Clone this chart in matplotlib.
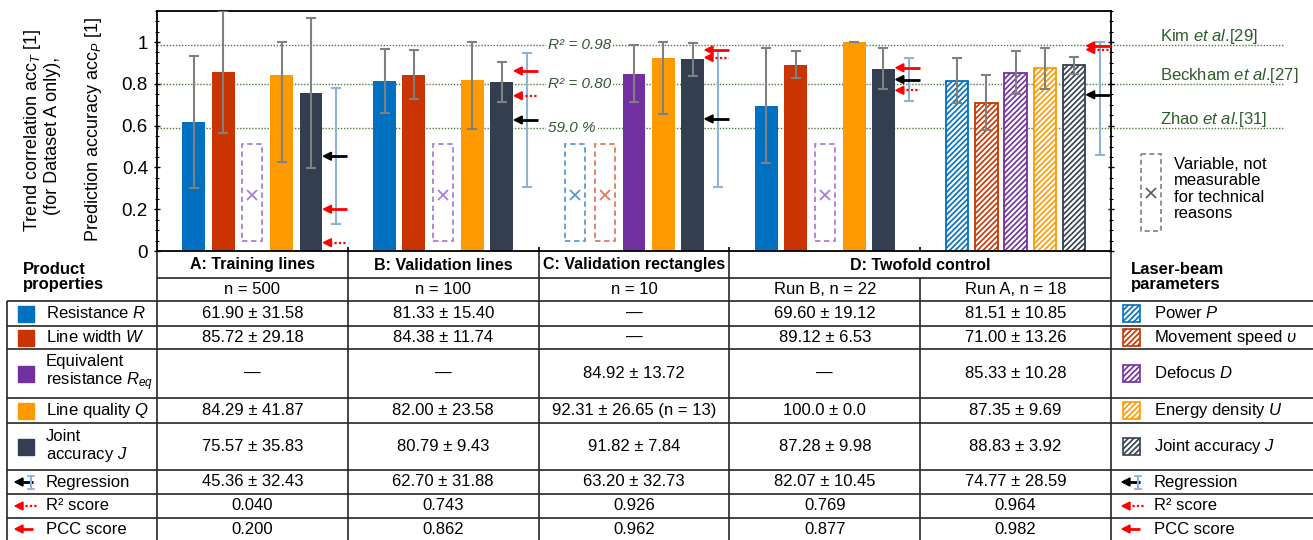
import matplotlib
matplotlib.use("Agg")
import matplotlib.pyplot as plt
from matplotlib.patches import Polygon, Rectangle
from matplotlib.ticker import MultipleLocator
from matplotlib.transforms import blended_transform_factory

plt.rcParams["font.family"] = ["Liberation Sans", "DejaVu Sans"]
plt.rcParams["mathtext.fontset"] = "custom"
plt.rcParams["mathtext.rm"] = "Liberation Sans"
plt.rcParams["mathtext.it"] = "Liberation Sans:italic"
plt.rcParams["mathtext.bf"] = "Liberation Sans:bold"
plt.rcParams["hatch.linewidth"] = 1.2

# ---- data: accuracies in %, one entry per dataset column (A, B, C, D run B, D run A) ----
group_titles = ["A: Training lines", "B: Validation lines", "C: Validation rectangles", "D: Twofold control"]
sample_sizes = ["n = 500", "n = 100", "n = 10", "Run B, n = 22", "Run A, n = 18"]

product_labels = ["Resistance $R$", "Line width $W$", "Equivalent\nresistance $R_{eq}$",
                  "Line quality $Q$", "Joint\naccuracy $J$"]
laser_labels = ["Power $P$", "Movement speed $\\upsilon$", "Defocus $D$", "Energy density $U$", "Joint accuracy $J$"]
score_labels = ["Regression", "R² score", "PCC score"]

mean_R = [61.90, 81.33, None, 69.60, 81.51]
std_R = [31.58, 15.40, None, 19.12, 10.85]
mean_W = [85.72, 84.38, None, 89.12, 71.00]
std_W = [29.18, 11.74, None, 6.53, 13.26]
mean_Req = [None, None, 84.92, None, 85.33]
std_Req = [None, None, 13.72, None, 10.28]
mean_Q = [84.29, 82.00, 92.31, 100.0, 87.35]
std_Q = [41.87, 23.58, 26.65, 0.0, 9.69]
note_Q = ["", "", " (n = 13)", "", ""]
mean_J = [75.57, 80.79, 91.82, 87.28, 88.83]
std_J = [35.83, 9.43, 7.84, 9.98, 3.92]
# error bar half-widths as drawn in the chart (run B resistance bar is drawn wider than its std)
err_R = [31.58, 15.40, None, 27.60, 10.85]

mean_reg = [45.36, 62.70, 63.20, 82.07, 74.77]
std_reg = [32.43, 31.88, 32.73, 10.45, 28.59]
r2_score = [0.040, 0.743, 0.926, 0.769, 0.964]
pcc_score = [0.200, 0.862, 0.962, 0.877, 0.982]

ref_levels = [0.985, 0.80, 0.59]
ref_inline = ["R² = 0.98", "R² = 0.80", "59.0 %"]
ref_sources = ["Kim $et\\ al$.[29]", "Beckham $et\\ al$.[27]", "Zhao $et\\ al$.[31]"]

# ---- styling ----
colors = ["#0070C0", "#C93400", "#7030A0", "#FF9900", "#333F50"]
box_colors = ["#5B9BD5", "#E07B5A", "#A77FD4", "#FFC000", "#7F7F7F"]
reg_color = "#8DB3DD"
ref_color = "#2E5B2E"
red = "#FF0000"

means = [mean_R, mean_W, mean_Req, mean_Q, mean_J]
stds = [std_R, std_W, std_Req, std_Q, std_J]
errs = [err_R, std_W, std_Req, std_Q, std_J]
clip_top = [False, False, False, True, False]

W, H = 1313, 540
ax_left, ax_right, ax_top, ax_bottom = 157, 1111, 10.5, 251
n_cols = 5
slot = 0.1535
bar_w = 0.12
reg_off = 0.44
hatch = "//////"

fig = plt.figure(figsize=(W / 100, H / 100), dpi=100)
tab = fig.add_axes([0, 0, 1, 1])
tab.set_xlim(0, W)
tab.set_ylim(H, 0)
tab.axis("off")

ax = fig.add_axes([ax_left / W, 1 - ax_bottom / H, (ax_right - ax_left) / W, (ax_bottom - ax_top) / H])
ax.set_facecolor("none")
trans = blended_transform_factory(tab.transData, ax.transData)


def arrow(axis, x_head, x_tail, y, color, dotted, hl, hh, lw=2.0, z=4):
    axis.plot([x_head + hl * 0.8, x_tail], [y, y], color=color, lw=lw,
              ls=(0, (1, 1)) if dotted else "-", solid_capstyle="butt", clip_on=False, zorder=z)
    axis.add_patch(Polygon([[x_head, y], [x_head + hl, y + hh], [x_head + hl, y - hh]],
                           closed=True, color=color, clip_on=False, zorder=z))


def fmt(m, s):
    if m is None:
        return "—"
    d = 1 if s == 0 else 2
    return f"{m:.{d}f} ± {s:.{d}f}"


# ---- reference lines ----
for lvl, lab, src in zip(ref_levels, ref_inline, ref_sources):
    ax.plot([ax_left, 1284], [lvl, lvl], transform=trans, color="#4E7A3E", lw=1.0,
            ls=(0, (1, 1.2)), clip_on=False, zorder=1)
    ax.text(548, lvl, lab, transform=trans, fontsize=11, style="italic", color=ref_color,
            va="center", ha="left", bbox=dict(fc="white", ec="none", pad=1.5), zorder=1.5)
    tab.text(1160, lvl + 0.018, src, transform=trans, fontsize=12, color=ref_color, va="baseline")

# ---- bars ----
for c in range(n_cols):
    hatched = c == 4
    for i in range(5):
        x = c + 0.5 + (i - 2) * slot
        m = means[i][c]
        if m is None:
            ax.add_patch(Rectangle((x - 0.0525, 0.046), 0.105, 0.464, fill=False, edgecolor=box_colors[i],
                                   ls=(0, (3, 2)), lw=1.3, zorder=2))
            ax.plot(x, 0.27, "x", color=box_colors[i], ms=7, mew=1.3, zorder=2)
            continue
        v = m / 100
        if hatched:
            ax.bar(x, v, width=0.118, facecolor="white", edgecolor=colors[i], hatch=hatch, lw=1.3, zorder=2)
        else:
            ax.bar(x, v, width=bar_w, color=colors[i], zorder=2)
        e = errs[i][c] / 100
        hi = min(v + e, 1.0) if clip_top[i] else v + e
        ax.errorbar(x, v, yerr=[[e], [hi - v]], fmt="none", ecolor="#808080", elinewidth=1.5,
                    capsize=3.5, capthick=1.5, zorder=3)

    # regression range and score arrows
    xr = c + 0.5 + reg_off
    vr = mean_reg[c] / 100
    er = std_reg[c] / 100
    hi = min(vr + er, 1.0)
    ax.errorbar(xr, vr, yerr=[[er], [hi - vr]], fmt="none", ecolor=reg_color, elinewidth=1.5,
                capsize=3.5, capthick=1.5, zorder=3)
    head = c + 0.5 + 2 * slot + bar_w / 2 + 0.005
    tail = xr + 0.058
    arrow(ax, head, tail, vr, "black", False, 0.042, 0.019)
    arrow(ax, head, tail, pcc_score[c], red, False, 0.042, 0.019)
    arrow(ax, head, tail, r2_score[c], red, True, 0.042, 0.019, lw=1.6)

ax.set_xlim(0, n_cols)
ax.set_ylim(0, 1.151)
ax.set_yticks([0, 0.2, 0.4, 0.6, 0.8, 1.0])
ax.set_yticklabels(["0", "0.2", "0.4", "0.6", "0.8", "1"], fontsize=13.5)
ax.yaxis.set_minor_locator(MultipleLocator(0.05))
ax.tick_params(axis="y", which="major", direction="inout", length=5, width=1, right=True, pad=4)
ax.tick_params(axis="y", which="minor", direction="inout", length=3, width=0.8, right=True)
ax.set_xticks([1, 2, 3, 4])
ax.tick_params(axis="x", direction="in", length=3, width=1.2, labelbottom=False)
for sp in ax.spines.values():
    sp.set_linewidth(1.3)

# ---- y labels ----
tab.text(33, 130, "Trend correlation $\\mathrm{acc}_{T}$ [1]", rotation=90, ha="center", va="center", fontsize=13)
tab.text(53, 136, "(for Dataset A only),", rotation=90, ha="center", va="center", fontsize=13)
tab.text(93, 130, "Prediction accuracy $\\mathrm{acc}_{P}$ [1]", rotation=90, ha="center", va="center", fontsize=13)

# ---- "not measurable" legend ----
tab.add_patch(Rectangle((1141, 154), 20, 77, fill=False, ec="#7F7F7F", ls=(0, (3, 2)), lw=1.2))
tab.plot(1151, 193, "x", color="#595959", ms=7, mew=1.2)
tab.text(1174, 157, "Variable, not\nmeasurable\nfor technical\nreasons", va="top", fontsize=12, linespacing=1.12)

# ---- table ----
col_edges = [ax_left + (ax_right - ax_left) * c / n_cols for c in range(n_cols + 1)]
col_centers = [(col_edges[c] + col_edges[c + 1]) / 2 for c in range(n_cols)]
row_edges = [301, 326, 349, 398, 423, 470, 494, 518, 540]
row_centers = [(row_edges[r] + row_edges[r + 1]) / 2 for r in range(len(row_edges) - 1)]
line_kw = dict(color="#262626", lw=1.2, solid_capstyle="butt")

tab.plot([ax_left, ax_right], [278, 278], **line_kw)
for y in row_edges[:-1]:
    tab.plot([7, W], [y, y], **line_kw)
tab.plot([7, 7], [301, H], **line_kw)
for c in [0, 1, 2, 3, 5]:
    tab.plot([col_edges[c]] * 2, [ax_bottom, H], **line_kw)
tab.plot([col_edges[4]] * 2, [278, H], **line_kw)

for g in range(3):
    tab.text(col_centers[g], 265, group_titles[g], fontsize=11.5, fontweight="bold", ha="center", va="center")
tab.text((col_edges[3] + col_edges[5]) / 2, 265, group_titles[3], fontsize=11.5, fontweight="bold",
         ha="center", va="center")
for c in range(n_cols):
    tab.text(col_centers[c], 289.5, sample_sizes[c], fontsize=12, ha="center", va="center")

tab.text(23, 277, "Product\nproperties", fontsize=12, fontweight="bold", va="center", linespacing=1.0)
tab.text(1131, 277, "Laser-beam\nparameters", fontsize=12, fontweight="bold", va="center", linespacing=1.0)

for i in range(5):
    yc = row_centers[i]
    for c in range(n_cols):
        txt = fmt(means[i][c], stds[i][c]) + (note_Q[c] if i == 3 else "")
        tab.text(col_centers[c], yc, txt, fontsize=12, ha="center", va="center")
    tab.add_patch(Rectangle((18, yc - 8), 16, 16, color=colors[i]))
    tab.text(46, yc, product_labels[i], fontsize=12, va="center", linespacing=1.1)
    tab.add_patch(Rectangle((1123, yc - 8.5), 17, 17, facecolor="white", edgecolor=colors[i],
                            hatch=hatch, lw=1.2))
    tab.text(1154, yc, laser_labels[i], fontsize=12, va="center")

for c in range(n_cols):
    tab.text(col_centers[c], row_centers[5], fmt(mean_reg[c], std_reg[c]), fontsize=12, ha="center", va="center")
    tab.text(col_centers[c], row_centers[6], f"{r2_score[c]:.3f}", fontsize=12, ha="center", va="center")
    tab.text(col_centers[c], row_centers[7], f"{pcc_score[c]:.3f}", fontsize=12, ha="center", va="center")

for x0, xt in [(46, 0), (1154, 1107)]:
    yc = row_centers[5]
    arrow(tab, 15 + xt, 33 + xt, yc, "black", False, 8, 4, lw=2.0)
    tab.plot([30.7 + xt] * 2, [yc - 6.5, yc + 6.5], color=reg_color, lw=1.5, zorder=5)
    tab.plot([27.5 + xt, 34 + xt], [yc - 6.5] * 2, color=reg_color, lw=1.3, zorder=5)
    tab.plot([27.5 + xt, 34 + xt], [yc + 6.5] * 2, color=reg_color, lw=1.3, zorder=5)
    arrow(tab, 15 + xt, 38 + xt, row_centers[6], red, True, 8, 4, lw=1.6)
    arrow(tab, 15 + xt, 33 + xt, row_centers[7], red, False, 8, 4, lw=2.0)
    for k, lab in enumerate(score_labels):
        tab.text(x0, row_centers[5 + k], lab, fontsize=12, va="center")

fig.savefig("out.png", dpi=100)
